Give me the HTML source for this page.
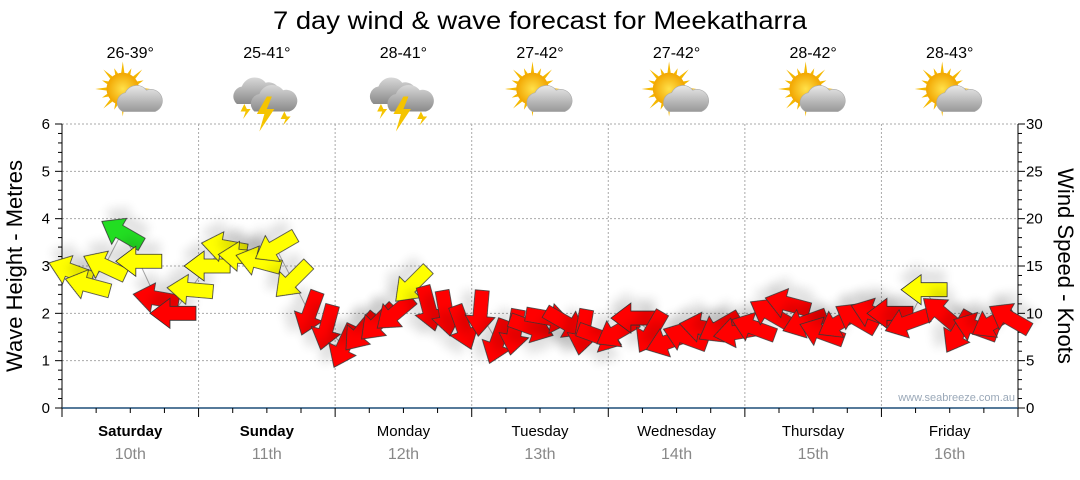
<!DOCTYPE html>
<html><head><meta charset="utf-8"><style>
body{margin:0;background:#fff;width:1080px;height:475px;overflow:hidden;font-family:"Liberation Sans",sans-serif}
</style></head><body>
<svg id="chart" width="1080" height="475" xmlns="http://www.w3.org/2000/svg" font-family="Liberation Sans, sans-serif">
<defs>
<filter id="sh" x="-50%" y="-50%" width="200%" height="250%"><feGaussianBlur in="SourceAlpha" stdDeviation="5"/><feOffset dx="2" dy="12"/><feComponentTransfer><feFuncA type="linear" slope="0.12"/></feComponentTransfer><feMerge><feMergeNode/><feMergeNode in="SourceGraphic"/></feMerge></filter>
<radialGradient id="sun" cx="50%" cy="50%" r="50%"><stop offset="0" stop-color="#ffe14a"/><stop offset="1" stop-color="#f2a500"/></radialGradient>
<linearGradient id="cloud" x1="0" y1="0" x2="0" y2="1"><stop offset="0" stop-color="#e8e8e8"/><stop offset="1" stop-color="#999"/></linearGradient>
<linearGradient id="dcloud" x1="0" y1="0" x2="0" y2="1"><stop offset="0" stop-color="#d8d8d8"/><stop offset="1" stop-color="#8a8a8a"/></linearGradient>
</defs>
<text x="540" y="29" font-size="25" text-anchor="middle" textLength="534" lengthAdjust="spacingAndGlyphs" fill="#000">7 day wind &amp; wave forecast for Meekatharra</text>
<g id="grid"></g>
<g id="axes"></g>
<g id="days"></g>
<g id="arrows"></g>
<text transform="translate(22,266) rotate(-90)" font-size="22" text-anchor="middle">Wave Height - Metres</text>
<text transform="translate(1058,266) rotate(90)" font-size="22" text-anchor="middle">Wind Speed - Knots</text>
<text x="1015" y="401" font-size="11" text-anchor="end" fill="#9aa8b8">www.seabreeze.com.au</text>
</svg>
<script>
const dayNames=["Saturday","Sunday","Monday","Tuesday","Wednesday","Thursday","Friday"];
const dayDates=["10th","11th","12th","13th","14th","15th","16th"];
const temps=["26-39°","25-41°","28-41°","27-42°","27-42°","28-42°","28-43°"];
const icons=["sun","storm","storm","sun","sun","sun","sun"];
const waveTicks=[0,1,2,3,4,5,6];
const windTicks=[0,5,10,15,20,25,30];
// wind speed (knots) every 3 hours
const windSpeed=[14.5,13,15,18.5,15.5,11.6,10,12.5, 15,17,16,15.5,17,13.5,10,8.5, 6.5,8,9,10,13,10.5,10,8.5, 10,7,8,8.5,9.5,9,8,7.5, 8,9.5,8,7,7.5,8.5,8.5,8, 8.5,10,11,9,8,9,9.5,10, 10,9,12.5,10,8,8.5,9,9.5];
// arrow direction (degrees, screen coords: 0=right, 90=down, 180=left)
const windDir=[200,195,205,210,180,190,180,185, 180,190,185,195,150,135,110,105, 115,130,135,140,135,75,80,70, 95,110,100,20,10,30,100,20, 150,180,120,160,200,190,150,170, 200,210,195,160,200,150,210,200, 180,160,180,220,120,200,150,210];
const NS="http://www.w3.org/2000/svg";
const X0=62,X1=1018,Y0=408,Y6=124;
const dayW=(X1-X0)/7;
const yM=m=>Y0-(Y0-Y6)*m/6;
const yK=k=>Y0-(Y0-Y6)*k/30;
const xI=i=>X0+(i+0.5)*dayW/8;
function mk(tag,attrs,parent){const e=document.createElementNS(NS,tag);for(const k in attrs)e.setAttribute(k,attrs[k]);parent.appendChild(e);return e;}
const grid=document.getElementById('grid'),axes=document.getElementById('axes'),days=document.getElementById('days'),arr=document.getElementById('arrows');
waveTicks.forEach((t,i)=>{
  const y=yM(t);
  if(t>0){const g=mk('line',{x1:X0,x2:X1,y1:y,y2:y,stroke:'#aaa','stroke-dasharray':'2,2'},grid);
  
  }
  const l=mk('text',{x:50,y:y+5,'font-size':15,'text-anchor':'end'},axes);l.textContent=t;
  
  
  const r=mk('text',{x:1026,y:yK(windTicks[i])+5,'font-size':15},axes);r.textContent=windTicks[i];
  
  
});
for(let m=0;m<=30;m++){const y=Y0-(Y0-Y6)*m/30;const len=m%5==0?7:4;
  mk('line',{x1:X0-len,x2:X0,y1:y,y2:y,stroke:'#000'},axes);
  mk('line',{x1:X1,x2:X1+len,y1:y,y2:y,stroke:'#000'},axes);}
mk('line',{x1:X0,x2:X0,y1:Y6,y2:Y0,stroke:'#000'},axes);
mk('line',{x1:X1,x2:X1,y1:Y6,y2:Y0,stroke:'#000'},axes);
mk('line',{x1:X0,x2:X1,y1:Y0,y2:Y0,stroke:'#1f4e79','stroke-width':1.5},axes);
for(let q=0;q<=28;q++){const x=X0+q*dayW/4;mk('line',{x1:x,x2:x,y1:Y0,y2:Y0+(q%4==0?9:5),stroke:'#000'},axes);}
dayNames.forEach((d,i)=>{
  const cx=X0+(i+0.5)*dayW;
  if(i>0){const g=mk('line',{x1:X0+i*dayW,x2:X0+i*dayW,y1:Y6,y2:Y0,stroke:'#aaa','stroke-dasharray':'2,2'},grid);
  
  }
  const n=mk('text',{x:cx,y:436,'font-size':15,'text-anchor':'middle','font-weight':i<2?'bold':'normal'},days);n.textContent=d;
  
  
  const dt=mk('text',{x:cx,y:459,'font-size':16,'text-anchor':'middle',fill:'#888'},days);dt.textContent=dayDates[i];
  
  
  const tp=mk('text',{x:cx,y:58,'font-size':16,'text-anchor':'middle'},days);tp.textContent=temps[i];
  
  
  const g=mk('g',{transform:`translate(${cx},94) scale(1.25)`},days);
  
  
  if(icons[i]=='sun'){
    for(let a=0;a<16;a++){const an=a*Math.PI/8;
      const r1=12,r2=a%2?18:22;
      mk('polygon',{points:`${Math.cos(an-0.12)*r1-6},${Math.sin(an-0.12)*r1-4} ${Math.cos(an)*r2-6},${Math.sin(an)*r2-4} ${Math.cos(an+0.12)*r1-6},${Math.sin(an+0.12)*r1-4}`,fill:'#f5b800'},g);}
    mk('circle',{cx:-6,cy:-4,r:13,fill:'url(#sun)'},g);
    mk('path',{d:'M-6 14 a8 8 0 0 1 2-15 a10 10 0 0 1 17 -2 a8 8 0 0 1 7 17 z',fill:'url(#cloud)',stroke:'#aaa','stroke-width':0.5},g);
  }else{
    mk('path',{d:'M-24 8 a8 8 0 0 1 4-14 a11 11 0 0 1 19-3 a8 8 0 0 1 5 17 z',fill:'url(#dcloud)'},g);
    mk('path',{d:'M-10 14 a8 8 0 0 1 4-14 a11 11 0 0 1 19-3 a8 8 0 0 1 5 17 z',fill:'url(#dcloud)'},g);
    mk('polygon',{points:'0,2 -8,16 -2,16 -6,30 6,12 0,12 4,2',fill:'#f5c400'},g);
    mk('polygon',{points:'-18,8 -21,14 -17,14 -19,20 -13,12 -16,12',fill:'#f5c400'},g);
    mk('polygon',{points:'14,14 11,20 15,20 13,25 19,18 16,18',fill:'#f5c400'},g);
  }
});
let pts=windSpeed.map((v,i)=>`${xI(i)},${yK(v)}`).join(' ');
const pl=mk('polyline',{points:pts,fill:'none',stroke:'#aaa','stroke-width':1},arr);


const shape='M23,0 L3,-15 L3,-7 L-23,-7 L-23,7 L3,7 L3,15 Z';
windSpeed.forEach((v,i)=>{
  const c=v>=18?'#22dd22':v>=12?'#ffff00':'#ff0000';
  const p=mk('path',{d:shape,fill:c,stroke:'#333','stroke-width':0.8,filter:'url(#sh)',transform:`translate(${xI(i)},${yK(v)}) rotate(${windDir[i]})`},arr);
  
  
});
</script>
</body></html>
